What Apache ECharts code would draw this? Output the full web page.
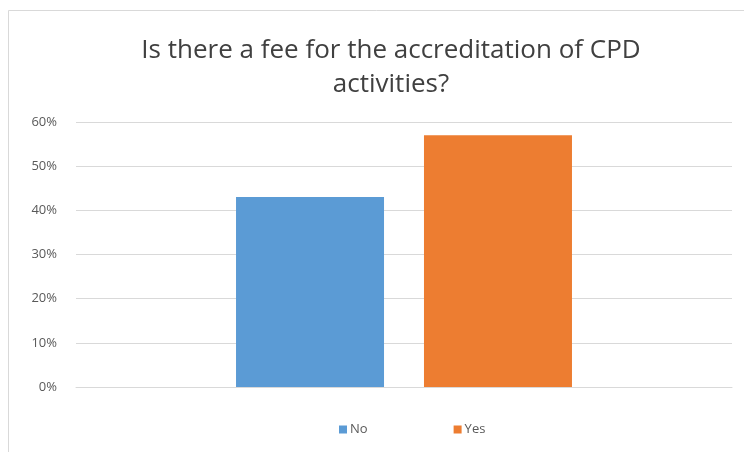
<!DOCTYPE html>
<html>
<head>
<meta charset="utf-8">
<script src="https://cdn.jsdelivr.net/npm/echarts@6/dist/echarts.min.js"></script>
<style>html,body{margin:0;padding:0;background:#fff}#c{width:744px;height:452px}</style>
</head>
<body>
<div id="c"></div>
<script>
const titleText = 'Is there a fee for the accreditation of CPD\nactivities?';
const categories = [''];
const seriesNames = ['No', 'Yes'];
const noValues = [43];
const yesValues = [57];
const seriesColors = ['#5B9BD5', '#ED7D31'];

const chart = echarts.init(document.getElementById('c'), null, {renderer: 'canvas'});
chart.setOption({
  animation: false,
  backgroundColor: '#fff',
  graphic: [{
    type: 'rect', silent: true, z: -1,
    shape: {x: 8.5, y: 10.5, width: 800, height: 500},
    style: {fill: 'none', stroke: '#d9d9d9', lineWidth: 1}
  }],
  title: {
    text: titleText,
    left: 386,
    textAlign: 'center',
    top: 29,
    textStyle: {fontFamily: 'Open Sans', fontSize: 26, fontWeight: 'normal', color: '#404040', lineHeight: 34}
  },
  legend: {
    data: seriesNames,
    left: 334,
    top: 418,
    itemWidth: 8,
    itemHeight: 8,
    itemGap: 86,
    icon: 'rect',
    textStyle: {fontFamily: 'Open Sans', fontSize: 13, color: '#595959', padding: [0, 0, 0, -2]}
  },
  grid: {left: 76, right: 12, top: 122, bottom: 65},
  xAxis: {
    type: 'category',
    data: categories,
    axisLine: {lineStyle: {color: '#d9d9d9'}},
    axisTick: {show: false},
    axisLabel: {show: false}
  },
  yAxis: {
    type: 'value',
    min: 0, max: 60, interval: 10,
    axisLine: {show: false},
    axisTick: {show: false},
    splitLine: {lineStyle: {color: '#d9d9d9'}},
    axisLabel: {formatter: '{value}%', margin: 19, fontFamily: 'Open Sans', fontSize: 13, color: '#595959'}
  },
  series: [
    {name: seriesNames[0], type: 'bar', data: noValues, barWidth: 148, barGap: '27%', itemStyle: {color: seriesColors[0]}},
    {name: seriesNames[1], type: 'bar', data: yesValues, barWidth: 148, barGap: '27%', itemStyle: {color: seriesColors[1]}}
  ]
});
</script>
</body>
</html>
